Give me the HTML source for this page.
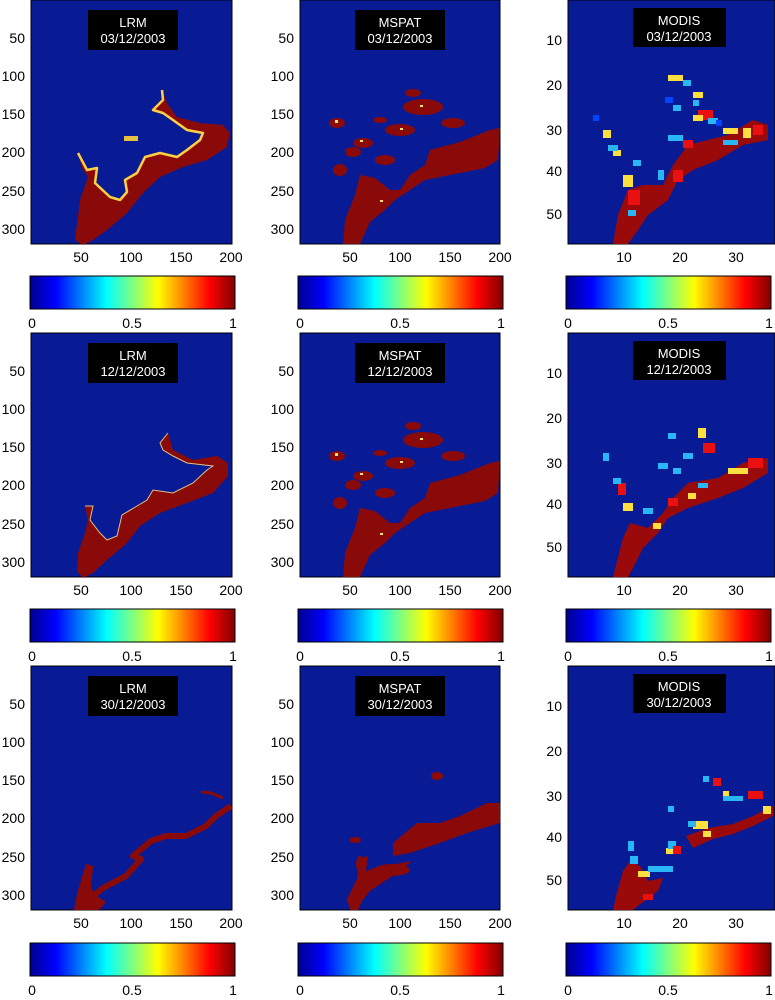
<!DOCTYPE html>
<html><head><meta charset="utf-8"><style>
html,body{margin:0;padding:0;background:#fff;}
svg{display:block;font-family:"Liberation Sans",Arial,sans-serif;}
</style></head><body>
<svg width="775" height="1000" viewBox="0 0 775 1000" xmlns="http://www.w3.org/2000/svg">
<defs>
<linearGradient id="jet" x1="0" x2="1" y1="0" y2="0">
<stop offset="0" stop-color="#00008f"/><stop offset="0.125" stop-color="#0000ff"/>
<stop offset="0.375" stop-color="#00ffff"/><stop offset="0.5" stop-color="#80ff80"/><stop offset="0.625" stop-color="#ffff00"/>
<stop offset="0.875" stop-color="#ff0000"/><stop offset="1" stop-color="#800000"/>
</linearGradient>
<g id="lrmT"><g font-size="14" text-anchor="end" fill="#000"><text x="-6" y="43">50</text><text x="-6" y="81">100</text><text x="-6" y="119">150</text><text x="-6" y="157">200</text><text x="-6" y="196">250</text><text x="-6" y="234">300</text></g>
<g font-size="14" text-anchor="middle"><text x="50" y="262">50</text><text x="100" y="262">100</text><text x="150" y="262">150</text><text x="200" y="262">200</text></g></g>
<g id="modT"><g font-size="14" text-anchor="end"><text x="-6" y="45">10</text><text x="-6" y="90">20</text><text x="-6" y="135">30</text><text x="-6" y="176">40</text><text x="-6" y="219">50</text></g>
<g font-size="14" text-anchor="middle"><text x="56" y="262">10</text><text x="112" y="262">20</text><text x="168" y="262">30</text></g></g>
<g id="cb"><rect x="0" y="0" width="205" height="33" fill="url(#jet)" stroke="#000" stroke-width="1"/>
<g font-size="14" text-anchor="middle"><text x="2" y="52">0</text><text x="102" y="52">0.5</text><text x="203" y="52">1</text></g></g>
<g id="mspatA">
<polygon fill="#8a0a0a" points="43,244 45,220 55,195 60,175 75,178 90,190 100,190 110,175 125,165 130,150 160,142 190,130 200,128 198,160 185,168 150,175 125,180 110,190 95,200 85,210 70,222 60,244"/>
<g fill="#8a0a0a"><ellipse cx="100" cy="130" rx="15" ry="6"/><ellipse cx="123" cy="107" rx="20" ry="8"/><ellipse cx="63" cy="143" rx="10" ry="5"/><ellipse cx="37" cy="123" rx="8" ry="5"/><ellipse cx="80" cy="120" rx="7" ry="3"/><ellipse cx="113" cy="93" rx="8" ry="4"/><ellipse cx="153" cy="123" rx="12" ry="5"/><ellipse cx="53" cy="152" rx="8" ry="5"/><ellipse cx="85" cy="160" rx="10" ry="5"/><ellipse cx="40" cy="170" rx="7" ry="6"/></g>
<g fill="#ffe070"><rect x="35" y="120" width="3" height="3"/><rect x="100" y="128" width="3" height="2"/><rect x="60" y="140" width="3" height="2"/><rect x="80" y="200" width="3" height="2"/><rect x="120" y="105" width="3" height="2"/></g>
</g>
</defs>

<!-- ROW 1 -->
<g transform="translate(31,0)">
<rect width="201" height="244" fill="#081a94" stroke="#000"/>
<polygon fill="#8a0a0a" points="44,240 49,200 57,177 51,168 47,153 56,170 66,168 64,183 79,197 89,200 96,192 94,180 106,173 114,157 129,153 146,157 156,150 169,140 172,133 156,130 142,120 132,113 122,110 132,100 131,90 136,103 146,117 169,123 192,125 199,133 196,147 176,160 152,167 129,177 112,193 96,213 76,230 62,240 52,245"/>
<polyline fill="none" stroke="#ffd040" stroke-width="2.5" stroke-linejoin="round" points="47,153 56,170 66,168 64,183 79,197 89,200 96,192 94,180 106,173 114,157 129,153 146,157 156,150 169,140 172,133 156,130 142,120 132,113 122,110 132,100 131,90"/>
<rect x="93" y="136" width="14" height="5" fill="#e8c040"/>
<rect x="57" y="10" width="90" height="40" fill="#000"/>
<text x="102" y="27" font-size="13" fill="#fff" text-anchor="middle">LRM</text><text x="102" y="43" font-size="13" fill="#fff" text-anchor="middle">03/12/2003</text>
<use href="#lrmT"/></g>
<g transform="translate(300,0)">
<rect width="200" height="244" fill="#081a94" stroke="#000"/>
<use href="#mspatA"/>
<rect x="55" y="10" width="90" height="40" fill="#000"/>
<text x="100" y="27" font-size="13" fill="#fff" text-anchor="middle">MSPAT</text><text x="100" y="43" font-size="13" fill="#fff" text-anchor="middle">03/12/2003</text>
<use href="#lrmT"/></g>
<g transform="translate(568,0)">
<rect width="207" height="244" fill="#081a94" stroke="#000"/>
<polygon fill="#9a0a0a" points="45,244 50,215 60,190 75,185 95,185 105,165 120,145 160,135 185,120 200,125 200,140 175,145 150,160 125,170 110,180 100,200 80,215 70,230 60,244"/>
<g fill="#e81010"><rect x="60" y="190" width="12" height="15"/><rect x="105" y="170" width="10" height="12"/><rect x="130" y="110" width="15" height="10"/><rect x="185" y="125" width="10" height="10"/><rect x="115" y="140" width="10" height="8"/></g>
<g fill="#fde040"><rect x="55" y="175" width="10" height="12"/><rect x="100" y="75" width="15" height="6"/><rect x="125" y="92" width="10" height="6"/><rect x="155" y="128" width="15" height="6"/><rect x="175" y="128" width="8" height="10"/><rect x="35" y="130" width="8" height="8"/><rect x="45" y="150" width="8" height="6"/><rect x="125" y="115" width="10" height="6"/></g>
<g fill="#29b6f6"><rect x="115" y="80" width="8" height="6"/><rect x="125" y="100" width="6" height="6"/><rect x="140" y="118" width="10" height="6"/><rect x="105" y="105" width="8" height="6"/><rect x="40" y="145" width="10" height="6"/><rect x="65" y="160" width="8" height="6"/><rect x="90" y="170" width="6" height="10"/><rect x="100" y="135" width="15" height="6"/><rect x="155" y="140" width="15" height="5"/><rect x="60" y="210" width="8" height="6"/></g>
<g fill="#0044ff"><rect x="25" y="115" width="6" height="6"/><rect x="97" y="97" width="8" height="6"/><rect x="148" y="120" width="6" height="6"/></g>
<rect x="65" y="8" width="93" height="39" fill="#000"/>
<text x="111" y="25" font-size="13" fill="#fff" text-anchor="middle">MODIS</text><text x="111" y="41" font-size="13" fill="#fff" text-anchor="middle">03/12/2003</text>
<use href="#modT"/></g>
<use href="#cb" x="30" y="276"/><use href="#cb" x="298" y="276"/><use href="#cb" x="566" y="276"/>

<!-- ROW 2 -->
<g transform="translate(31,333)">
<rect width="201" height="244" fill="#081a94" stroke="#000"/>
<polygon fill="#8a0a0a" points="46,238 47,220 54,200 57,187 54,173 62,173 59,187 69,200 76,207 86,203 91,182 106,173 116,167 122,157 142,160 162,150 176,137 182,133 156,130 142,123 132,117 129,110 137,100 142,117 162,127 186,123 197,130 197,143 182,160 156,170 129,180 109,193 96,210 76,227 62,240 52,245"/>
<polyline fill="none" stroke="#e0c080" stroke-width="1" points="54,173 62,173 59,187 69,200 76,207 86,203 91,182 106,173 116,167 122,157 142,160 162,150 176,137 182,133 156,130 142,123 132,117 129,110 137,100"/>
<rect x="57" y="10" width="90" height="40" fill="#000"/>
<text x="102" y="27" font-size="13" fill="#fff" text-anchor="middle">LRM</text><text x="102" y="43" font-size="13" fill="#fff" text-anchor="middle">12/12/2003</text>
<use href="#lrmT"/></g>
<g transform="translate(300,333)">
<rect width="200" height="244" fill="#081a94" stroke="#000"/>
<use href="#mspatA"/>
<rect x="55" y="10" width="90" height="40" fill="#000"/>
<text x="100" y="27" font-size="13" fill="#fff" text-anchor="middle">MSPAT</text><text x="100" y="43" font-size="13" fill="#fff" text-anchor="middle">12/12/2003</text>
<use href="#lrmT"/></g>
<g transform="translate(568,333)">
<rect width="207" height="244" fill="#081a94" stroke="#000"/>
<polygon fill="#9a0a0a" points="45,244 55,205 62,190 80,195 95,180 105,165 120,150 150,145 175,130 200,125 200,140 175,155 150,165 120,175 100,185 90,200 75,215 65,235 60,244"/>
<g fill="#e81010"><rect x="50" y="150" width="8" height="12"/><rect x="135" y="110" width="12" height="10"/><rect x="180" y="125" width="15" height="10"/><rect x="100" y="165" width="10" height="8"/></g>
<g fill="#fde040"><rect x="55" y="170" width="10" height="8"/><rect x="130" y="95" width="8" height="10"/><rect x="160" y="135" width="20" height="6"/><rect x="85" y="190" width="8" height="6"/><rect x="120" y="160" width="8" height="6"/></g>
<g fill="#29b6f6"><rect x="45" y="145" width="8" height="6"/><rect x="115" y="120" width="10" height="6"/><rect x="90" y="130" width="10" height="6"/><rect x="105" y="135" width="8" height="6"/><rect x="75" y="175" width="10" height="6"/><rect x="130" y="150" width="10" height="5"/><rect x="35" y="120" width="6" height="8"/><rect x="100" y="100" width="8" height="6"/></g>
<rect x="65" y="8" width="93" height="39" fill="#000"/>
<text x="111" y="25" font-size="13" fill="#fff" text-anchor="middle">MODIS</text><text x="111" y="41" font-size="13" fill="#fff" text-anchor="middle">12/12/2003</text>
<use href="#modT"/></g>
<use href="#cb" x="30" y="609"/><use href="#cb" x="298" y="609"/><use href="#cb" x="566" y="609"/>

<!-- ROW 3 -->
<g transform="translate(31,666)">
<rect width="201" height="244" fill="#081a94" stroke="#000"/>
<polyline fill="none" stroke="#8a0a0a" stroke-width="6" stroke-linejoin="round" points="60,232 72,222 95,210 110,193 102,190 120,175 135,170 155,170 175,160 185,150 200,140"/>
<polyline fill="none" stroke="#8a0a0a" stroke-width="3" points="170,126 180,127 192,132"/>
<polygon fill="#8a0a0a" points="43,244 46,228 55,198 62,200 60,222 66,230 75,236 68,244"/>
<rect x="57" y="10" width="90" height="40" fill="#000"/>
<text x="102" y="27" font-size="13" fill="#fff" text-anchor="middle">LRM</text><text x="102" y="43" font-size="13" fill="#fff" text-anchor="middle">30/12/2003</text>
<use href="#lrmT"/></g>
<g transform="translate(300,666)">
<rect width="200" height="244" fill="#081a94" stroke="#000"/>
<polygon fill="#8a0a0a" points="50,244 47,233 57,213 60,192 68,190 66,205 80,200 95,198 112,195 100,205 85,215 70,225 62,235 58,244"/>
<polygon fill="#8a0a0a" points="93,177 117,157 140,157 160,150 187,137 200,137 200,157 167,167 140,177 110,187 93,190"/>
<g fill="#8a0a0a"><ellipse cx="55" cy="174" rx="6" ry="3"/><ellipse cx="137" cy="110" rx="6" ry="4"/><ellipse cx="60" cy="198" rx="4" ry="8"/><ellipse cx="92" cy="204" rx="18" ry="6"/></g>
<rect x="55" y="10" width="90" height="40" fill="#000"/>
<text x="100" y="27" font-size="13" fill="#fff" text-anchor="middle">MSPAT</text><text x="100" y="43" font-size="13" fill="#fff" text-anchor="middle">30/12/2003</text>
<use href="#lrmT"/></g>
<g transform="translate(568,666)">
<rect width="207" height="244" fill="#081a94" stroke="#000"/>
<polygon fill="#9a0a0a" points="45,244 48,230 55,205 62,195 72,200 80,215 95,212 90,225 70,240 65,244"/>
<polygon fill="#9a0a0a" points="118,170 140,162 165,158 185,150 205,140 205,150 185,160 165,168 145,173 125,182"/>
<g fill="#fde040"><rect x="70" y="205" width="12" height="6"/><rect x="125" y="155" width="15" height="8"/><rect x="135" y="165" width="8" height="6"/><rect x="195" y="140" width="8" height="8"/><rect x="155" y="125" width="6" height="6"/><rect x="98" y="182" width="8" height="6"/></g>
<g fill="#29b6f6"><rect x="80" y="200" width="25" height="6"/><rect x="62" y="190" width="8" height="8"/><rect x="100" y="175" width="8" height="8"/><rect x="155" y="130" width="20" height="5"/><rect x="135" y="110" width="6" height="6"/><rect x="120" y="155" width="8" height="6"/><rect x="60" y="175" width="6" height="10"/><rect x="100" y="140" width="6" height="6"/></g>
<g fill="#e81010"><rect x="145" y="112" width="8" height="8"/><rect x="105" y="180" width="8" height="8"/><rect x="75" y="228" width="10" height="6"/><rect x="180" y="125" width="15" height="8"/></g>
<rect x="65" y="8" width="93" height="39" fill="#000"/>
<text x="111" y="25" font-size="13" fill="#fff" text-anchor="middle">MODIS</text><text x="111" y="41" font-size="13" fill="#fff" text-anchor="middle">30/12/2003</text>
<use href="#modT"/></g>
<use href="#cb" x="30" y="943"/><use href="#cb" x="298" y="943"/><use href="#cb" x="566" y="943"/>
</svg>
</body></html>
